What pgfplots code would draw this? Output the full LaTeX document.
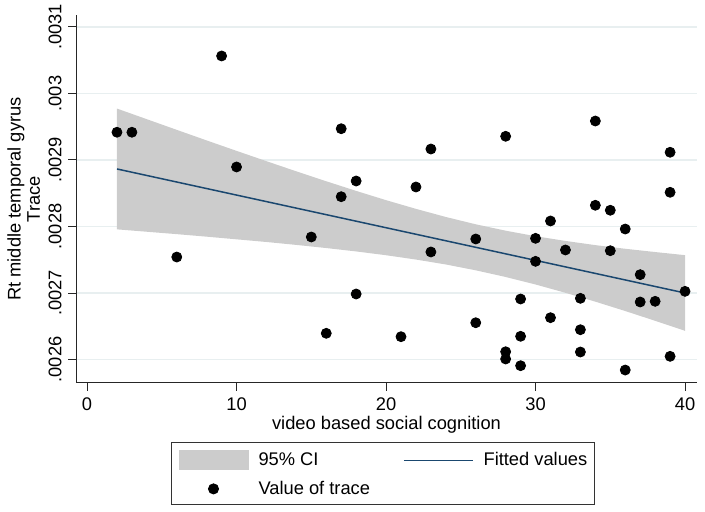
\documentclass[border=0pt]{standalone}
\usepackage{pgfplots}
\pgfplotsset{compat=1.18}
\usepackage{fontspec}
\setmainfont{Liberation Sans}
\definecolor{ciGray}{RGB}{204,204,204}
\definecolor{fitBlue}{RGB}{26,71,111}
\definecolor{gridC}{RGB}{232,239,240}
\begin{document}
\fontsize{9.15}{9.6}\selectfont
\begin{tikzpicture}
\useasboundingbox (0,0) rectangle (352.5pt,256pt);
\begin{axis}[
  at={(38pt,64.5pt)}, anchor=south west,
  scale only axis, width=310.5pt, height=184pt,
  xmin=-0.74, xmax=40.8, ymin=0.0025647, ymax=0.003118,
  axis lines*=left,
  axis line style={black!85, line width=0.5pt},
  tick style={black!85, line width=0.5pt},
  tick align=outside, major tick length=4pt,
  xtick={0,10,20,30,40}, xticklabels={0,10,20,30,40},
  ytick={0.0026,0.0027,0.0028,0.0029,0.003,0.0031},
  yticklabels={.0026,.0027,.0028,.0029,.003,.0031},
  scaled y ticks=false, scaled x ticks=false,
  yticklabel style={rotate=90, anchor=south},
  ymajorgrids, grid style={gridC, line width=0.6pt},
  xlabel={video based social cognition},
  xlabel style={yshift=3.5pt},
  ylabel={Rt middle temporal gyrus\\Trace},
  ylabel style={align=center, yshift=-2pt},
  clip=false,
  legend columns=2,
  legend cell align=left,
  legend style={at={(0.153,-0.1603)}, anchor=north west,
    draw=black!80, line width=0.5pt, inner xsep=3.5pt, inner ysep=4pt,
    nodes={inner sep=0pt, anchor=west},
    row sep=5.2pt,
    /tikz/every odd column/.append style={column sep=5pt},
    /tikz/every even column/.append style={column sep=16.5pt}},
]
\addplot[fill=ciGray, draw=none,
  legend image code/.code={\fill[ciGray] (0pt,-5pt) rectangle (35pt,5pt);}]
 coordinates {
 (2,0.0029773) (4,0.0029613) (6,0.0029453) (8,0.0029294) (10,0.0029137)
 (12,0.0028982) (14,0.0028829) (16,0.0028680) (18,0.0028535) (20,0.0028396)
 (22,0.0028265) (24,0.0028143) (26,0.0028033) (28,0.0027937) (30,0.0027854)
 (32,0.0027783) (34,0.0027720) (36,0.0027665) (38,0.0027616) (40,0.0027569)
 (40,0.0026431) (38,0.0026582) (36,0.0026729) (34,0.0026870) (32,0.0027003)
 (30,0.0027128) (28,0.0027241) (26,0.0027341) (24,0.0027429) (22,0.0027503)
 (20,0.0027568) (18,0.0027625) (16,0.0027676) (14,0.0027723) (12,0.0027767)
 (10,0.0027807) (8,0.0027847) (6,0.0027885) (4,0.0027921) (2,0.0027957)
 } -- cycle;
\addlegendentry{95\% CI}
\addplot[fitBlue, line width=0.75pt,
  legend image code/.code={\draw[fitBlue, line width=0.75pt] (0pt,0pt) -- (34.5pt,0pt);}]
 coordinates {(2,0.0028865) (40,0.0027000)};
\addlegendentry{Fitted values}
\addplot[only marks, mark=*, mark size=2.5pt, black,
  legend image code/.code={\path[draw=none,fill=none] (0pt,-1pt) rectangle (35pt,1pt); \fill[black] (17.5pt,0pt) circle (2.5pt);}]
 table[row sep=\\] {
 x y\\
 2 0.0029417\\ 3 0.0029417\\ 9 0.0030564\\ 10 0.0028895\\ 17 0.0029470\\
 18 0.0028684\\ 17 0.0028448\\ 22 0.0028594\\ 23 0.0029165\\ 28 0.0029356\\
 34 0.0029586\\ 39 0.0029116\\ 39 0.0028514\\ 6 0.0027541\\ 15 0.0027842\\
 18 0.0026985\\ 16 0.0026394\\ 21 0.0026343\\ 34 0.0028319\\ 35 0.0028244\\
 31 0.0028083\\ 36 0.0027962\\ 26 0.0027812\\ 30 0.0027822\\ 23 0.0027617\\
 32 0.0027647\\ 35 0.0027636\\ 30 0.0027476\\ 37 0.0027276\\ 40 0.0027025\\
 29 0.0026910\\ 33 0.0026920\\ 37 0.0026865\\ 38 0.0026875\\ 26 0.0026553\\
 31 0.0026629\\ 33 0.0026448\\ 29 0.0026349\\ 28 0.0026117\\ 28 0.0026008\\
 33 0.0026113\\ 39 0.0026048\\ 29 0.0025907\\ 36 0.0025842\\
 };
\addlegendentry{Value of trace}
\end{axis}
\end{tikzpicture}
\end{document}
